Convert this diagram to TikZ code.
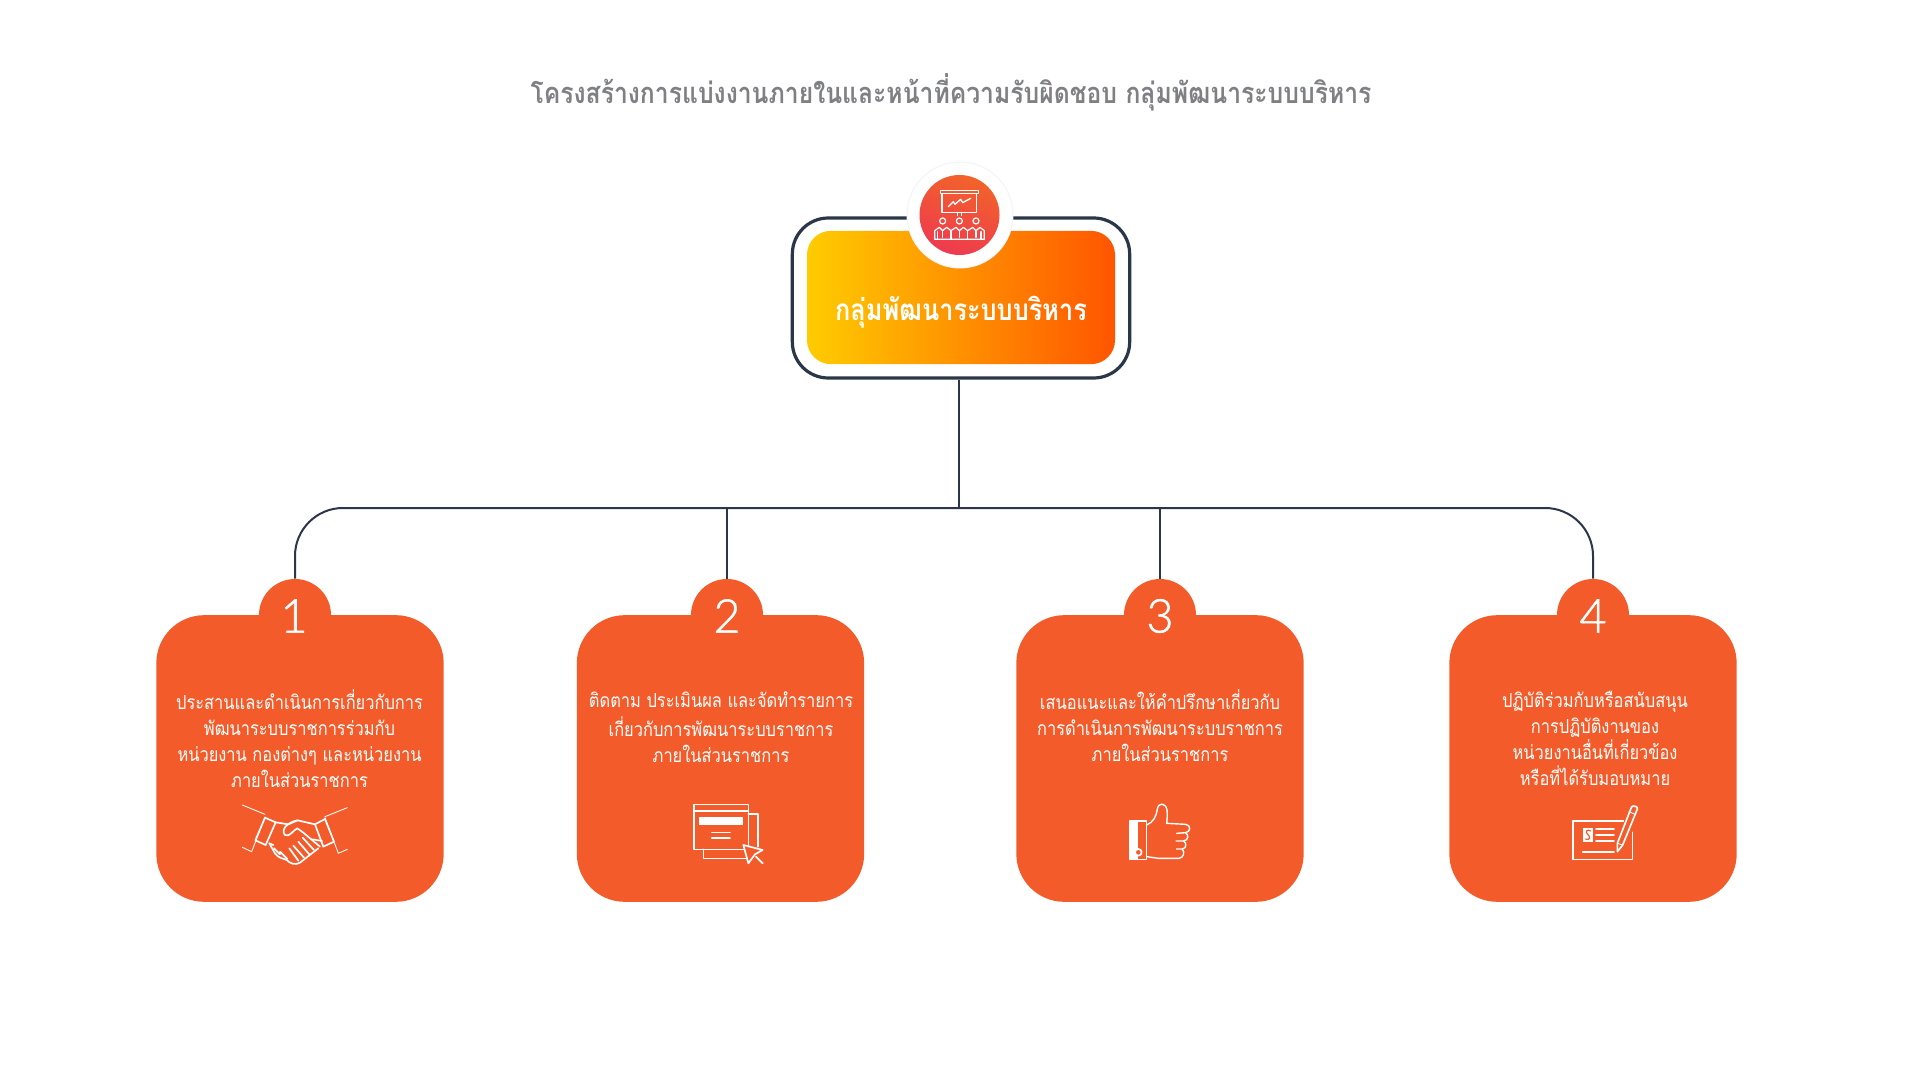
\documentclass[tikz,border=0pt]{standalone}
\usepackage{fontspec}
\setmainfont[Script=Thai,FakeStretch=0.85]{Loma}
\newfontfamily\digitfont[FakeBold=1.2]{Lato Light}
\definecolor{cardorange}{HTML}{F35C2A}
\definecolor{navyline}{HTML}{2B3648}
\definecolor{titlegray}{HTML}{7F8084}
\definecolor{gradleft}{HTML}{FFCC00}
\definecolor{gradright}{HTML}{FF5500}
\definecolor{dottop}{HTML}{F26329}
\definecolor{dotbottom}{HTML}{EE3A50}
\definecolor{halorim}{HTML}{F4F4F4}
\tikzset{
  x=0.75pt,y=-0.75pt,
  conn/.style={draw=navyline,line width=1.5pt},
  cardbox/.style={fill=cardorange,rounded corners=36pt,minimum width=215.5pt,minimum height=215pt,inner sep=0pt},
  tabdot/.style={circle,fill=cardorange,minimum size=54pt,inner sep=0pt},
  numeral/.style={text=white,font=\digitfont\fontsize{35}{35}\selectfont,inner sep=0pt},
  cardtext/.style={text=white,anchor=north,align=center,inner sep=0pt,font=\fontsize{14.5}{19.5}\selectfont},
  iconthick/.style={draw=white,line width=1.25pt,line join=round,line cap=round},
  iconthin/.style={draw=white,line width=0.65pt,line join=round,line cap=round},
  zoomed/.style={x=0.25pt,y=-0.25pt}
}
\begin{document}
\begin{tikzpicture}
\useasboundingbox (0,0) rectangle (1920,1080);
\fill[white] (0,0) rectangle (1920,1080);
\node[text=titlegray,font=\bfseries\fontsize{21.8}{26}\selectfont,inner sep=0pt] (title) at (951,92) {โครงสร้างการแบ่งงานภายในและหน้าที่ความรับผิดชอบ กลุ่มพัฒนาระบบบริหาร};

% head box
\node[draw=navyline,line width=2.4pt,fill=white,rounded corners=27pt,minimum width=253pt,minimum height=120pt,inner sep=0pt] (headframe) at (961,298) {};
\node[left color=gradleft,right color=gradright,rounded corners=18pt,minimum width=231pt,minimum height=100pt,inner sep=0pt] (headfill) at (961,297.5) {};
\node[text=white,font=\bfseries\fontsize{22.3}{26}\selectfont,inner sep=0pt] (headlabel) at (961,312) {กลุ่มพัฒนาระบบบริหาร};
\node[circle,fill=white,draw=halorim,line width=0.75pt,minimum size=79.5pt,inner sep=0pt] (headhalo) at (960,215) {};
\node[circle,shade,top color=dottop,bottom color=dotbottom,shading angle=-20,minimum size=60pt,inner sep=0pt] (headdot) at (959.5,215) {};

% presentation icon
\begin{scope}[shift={(900,160)},zoomed]
  \draw[iconthick,line width=1.05pt] (121,92) rectangle (235,100);
  \draw[iconthick,line width=1.05pt] (126,100) rectangle (230,157);
  \draw[iconthin,line width=1pt] (145,140) -- (160,125) -- (165,133) -- (182,118) -- (188,128) -- (212,115);
  \draw[iconthin] (173,157) -- (173,167) (183,157) -- (183,167);
  \draw[iconthin,line width=0.9pt] (128,183) circle (9) (178,183) circle (9) (228,183) circle (9);
  \draw[iconthin,line width=0.9pt] (104,238) -- (104,212) -- (118,202) -- (128,212) -- (140,202) -- (153,212)
     -- (168,202) -- (178,212) -- (190,202) -- (203,212) -- (218,202) -- (228,212) -- (240,202) -- (253,212) -- (253,238) -- cycle;
  \draw[iconthin,line width=0.9pt] (113,238) -- (113,215) (153,238) -- (153,212) (203,238) -- (203,212) (243,238) -- (243,215)
     (128,212) -- (128,232) (178,212) -- (178,232) (228,212) -- (228,232);
\end{scope}

% trunk and branches
\coordinate (hub) at (959,508);
\node[tabdot] (tab1) at (295,615) {};
\node[tabdot] (tab2) at (727,615) {};
\node[tabdot] (tab3) at (1160,615) {};
\node[tabdot] (tab4) at (1593,615) {};
\draw[conn] (headframe.south -| hub) -- (hub);
\draw[conn,rounded corners=36pt] (tab1.north) |- (hub);
\draw[conn,rounded corners=36pt] (tab4.north) |- (hub);
\draw[conn] (tab2.north) |- (hub);
\draw[conn] (tab3.north) |- (hub);

% cards
\node[cardbox] (card1) at (300,758.5) {};
\node[cardbox] (card2) at (720.5,758.5) {};
\node[cardbox] (card3) at (1160,758.5) {};
\node[cardbox] (card4) at (1593,758.5) {};
\node[numeral] (num1) at (294,616) {1};
\node[numeral] (num2) at (727,616) {2};
\node[numeral] (num3) at (1160,616) {3};
\node[numeral] (num4) at (1593,616) {4};

\node[cardtext] (text1) at (299.5,689) {\strut ประสานและดำเนินการเกี่ยวกับการ\\พัฒนาระบบราชการร่วมกับ\\หน่วยงาน กองต่างๆ และหน่วยงาน\\ภายในส่วนราชการ};
\node[cardtext] (text2) at (721,689) {\strut ติดตาม ประเมินผล และจัดทำรายการ\\เกี่ยวกับการพัฒนาระบบราชการ\\ภายในส่วนราชการ};
\node[cardtext] (text3) at (1160,689) {\strut เสนอแนะและให้คำปรึกษาเกี่ยวกับ\\การดำเนินการพัฒนาระบบราชการ\\ภายในส่วนราชการ};
\node[cardtext] (text4) at (1595,689) {\strut ปฏิบัติร่วมกับหรือสนับสนุน\\การปฏิบัติงานของ\\หน่วยงานอื่นที่เกี่ยวข้อง\\หรือที่ได้รับมอบหมาย};

% handshake icon
\begin{scope}[shift={(230,795)},zoomed]
  \draw[iconthin] (37,30) -- (105,58) (105,66) -- (65,170) -- (37,157);
  \draw[iconthin] (352,38) -- (285,65) (285,68) -- (325,175) -- (352,163);
  \draw[iconthick] (105,68) -- (137,82) -- (107,150) -- (76,136) -- cycle;
  \draw[iconthick] (255,88) -- (285,72) -- (312,140) -- (280,155) -- cycle;
  \draw[iconthick] (137,82) -- (175,88) -- (203,76) -- (255,88);
  \draw[iconthick] (203,76) .. controls (170,82) and (152,105) .. (165,120) .. controls (178,128) and (190,105) .. (202,100) -- (220,113) -- (270,155);
  \draw[iconthick] (118,145) -- (135,175) .. controls (145,190) and (160,190) .. (170,195) .. controls (180,205) and (195,212) .. (210,203) -- (265,160);
  \draw[iconthick] (248,133) -- (276,138);
  \draw[iconthick] (132,160) -- (150,178) (150,170) -- (172,192) (118,145) -- (130,150);
  \draw[iconthick] (178,160) -- (205,197) (190,152) -- (222,188) (205,140) -- (238,178) (218,128) -- (252,165);
\end{scope}

% window icon
\begin{scope}[shift={(680,795)},zoomed]
  \draw[iconthick] (205,57) -- (233,57) -- (233,155) (70,163) -- (70,190) -- (200,190);
  \draw[iconthick] (42,28) rectangle (205,163) (42,47) -- (205,47);
  \fill[white] (57,65) rectangle (188,90);
  \draw[iconthick] (95,112) -- (150,112) (95,128) -- (150,128);
  \draw[iconthick,fill=cardorange] (190,150) -- (248,165) -- (225,178) -- (205,205) -- cycle;
  \draw[iconthick] (228,185) -- (248,205);
\end{scope}

% thumb icon
\begin{scope}[shift={(1115,795)},zoomed]
  \fill[white] (45,78) rectangle (70,193);
  \draw[iconthick,line width=1.05pt] (45,78) rectangle (95,193);
  \draw[iconthick,fill=cardorange] (70,172) circle (10);
  \draw[iconthick,line width=1.05pt] (95,90) .. controls (115,82) and (125,62) .. (127,42) .. controls (130,22) and (152,22) .. (156,45) .. controls (158,60) and (156,75) .. (155,85) -- (212,88)
     .. controls (228,90) and (228,110) .. (212,113) -- (185,115);
  \draw[iconthick,line width=1.05pt] (212,113) .. controls (222,120) and (220,136) .. (206,138) -- (183,138);
  \draw[iconthick,line width=1.05pt] (206,138) .. controls (216,145) and (214,160) .. (202,162) -- (185,162);
  \draw[iconthick,line width=1.05pt] (202,162) .. controls (210,172) and (206,188) .. (192,190) -- (130,190) -- (95,185);
\end{scope}

% cheque icon
\begin{scope}[shift={(1560,795)},zoomed]
  \draw[iconthick] (190,78) -- (38,78) -- (38,193) -- (217,193) -- (217,112);
  \fill[white] (68,100) rectangle (100,140);
  \draw[draw=cardorange,line width=0.9pt] (92,108) .. controls (80,100) and (74,112) .. (84,119) .. controls (94,126) and (88,138) .. (76,132);
  \draw[iconthick] (108,102) -- (162,102) (108,120) -- (162,120) (108,138) -- (162,138) (68,170) -- (162,170);
  \draw[iconthick] (215,35) .. controls (222,30) and (235,36) .. (232,42) -- (188,150) -- (172,170) -- (172,145) -- cycle;
  \draw[iconthin] (207,50) -- (225,58) (172,145) -- (188,150);
\end{scope}
\end{tikzpicture}
\end{document}
